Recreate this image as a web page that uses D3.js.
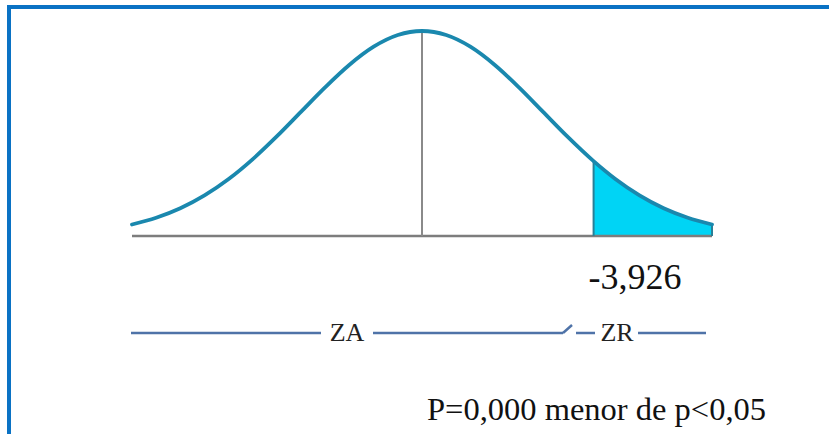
<!DOCTYPE html>
<html>
<head>
<meta charset="utf-8">
<script src="https://cdn.jsdelivr.net/npm/d3@7"></script>
<style>
  body { margin: 0; background: #fff; }
  svg { display: block; }
</style>
</head>
<body>
<svg id="chart" width="829" height="434"></svg>
<script>
const zValues = [-2.4, -2.2, -2.0, -1.8, -1.6, -1.4, -1.2, -1.0, -0.8, -0.6, -0.4, -0.2, 0,
                 0.2, 0.4, 0.6, 0.8, 1.0, 1.2, 1.42, 1.6, 1.8, 2.0, 2.2, 2.4];
const densities = [0.0224, 0.0355, 0.0540, 0.0790, 0.1109, 0.1497, 0.1942, 0.2420, 0.2897, 0.3332, 0.3683, 0.3910, 0.3989,
                   0.3910, 0.3683, 0.3332, 0.2897, 0.2420, 0.1942, 0.1456, 0.1109, 0.0790, 0.0540, 0.0355, 0.0224];
const criticalZ = 1.42;
const criticalLabel = "-3,926";
const zoneLabels = ["ZA", "ZR"];
const footnote = "P=0,000 menor de p<0,05";

const serif = "'Liberation Serif', 'Times New Roman', Tinos, 'DejaVu Serif', serif";

const points = zValues.map((z, i) => ({ z: z, d: densities[i] }));
const zMin = d3.min(zValues), zMax = d3.max(zValues);
const critD = densities[zValues.indexOf(criticalZ)];

const svg = d3.select("#chart");

// blue frame (top and left edges visible)
svg.append("path")
    .attr("d", "M9,434 V7 H829")
    .attr("fill", "none")
    .attr("stroke", "#0a72c4")
    .attr("stroke-width", 4);

const x = d3.scaleLinear().domain([zMin, zMax]).range([132, 712]);
const y = d3.scaleLinear().domain([0, 0.3989]).range([236, 31]);

const line = d3.line()
    .x(d => x(d.z))
    .y(d => y(d.d))
    .curve(d3.curveMonotoneX);

const area = d3.area()
    .x(d => x(d.z))
    .y0(y(0))
    .y1(d => y(d.d))
    .curve(d3.curveMonotoneX);

// shaded rejection tail
svg.append("path")
    .datum(points.filter(d => d.z >= criticalZ))
    .attr("d", area)
    .attr("fill", "#00d4f5");

// baseline
svg.append("line")
    .attr("x1", x(zMin)).attr("x2", x(zMax))
    .attr("y1", y(0)).attr("y2", y(0))
    .attr("stroke", "#7d7d7d")
    .attr("stroke-width", 2.5);

// mean line
svg.append("line")
    .attr("x1", x(0)).attr("x2", x(0))
    .attr("y1", y(0.3989)).attr("y2", y(0))
    .attr("stroke", "#8a8a8a")
    .attr("stroke-width", 2);

// critical line
svg.append("line")
    .attr("x1", x(criticalZ)).attr("x2", x(criticalZ))
    .attr("y1", y(critD)).attr("y2", y(0))
    .attr("stroke", "#2a7f96")
    .attr("stroke-width", 2);

// tail edge
svg.append("line")
    .attr("x1", x(zMax)).attr("x2", x(zMax))
    .attr("y1", y(densities[densities.length - 1])).attr("y2", y(0))
    .attr("stroke", "#2a7f96")
    .attr("stroke-width", 2);

// density curve
svg.append("path")
    .datum(points)
    .attr("d", line)
    .attr("fill", "none")
    .attr("stroke", "#1a88ae")
    .attr("stroke-width", 3.8)
    .attr("stroke-linecap", "round");

// critical value label
svg.append("text")
    .attr("x", x(criticalZ) - 5)
    .attr("y", 289)
    .style("font-family", serif)
    .style("font-size", "36px")
    .style("fill", "#111")
    .text(criticalLabel);

// zone bar
const zy = 333;
const zoneStroke = "#4f73a8";
const segs = [[131, 321], [373, 563], [576, 595], [638, 706]];
svg.selectAll(".zseg")
    .data(segs)
    .enter().append("line")
    .attr("class", "zseg")
    .attr("x1", d => d[0]).attr("x2", d => d[1])
    .attr("y1", zy).attr("y2", zy)
    .attr("stroke", zoneStroke)
    .attr("stroke-width", 2.5);
svg.append("line")
    .attr("x1", 563).attr("y1", zy)
    .attr("x2", 572).attr("y2", zy - 8)
    .attr("stroke", zoneStroke)
    .attr("stroke-width", 2.5);

svg.selectAll(".zlab")
    .data(zoneLabels)
    .enter().append("text")
    .attr("class", "zlab")
    .attr("x", (d, i) => [347, 617][i])
    .attr("y", 341)
    .attr("text-anchor", "middle")
    .style("font-family", serif)
    .style("font-size", "26px")
    .style("fill", "#222")
    .text(d => d);

svg.append("text")
    .attr("x", 427)
    .attr("y", 420)
    .style("font-family", serif)
    .style("font-size", "32.5px")
    .style("fill", "#111")
    .text(footnote);
</script>
</body>
</html>
